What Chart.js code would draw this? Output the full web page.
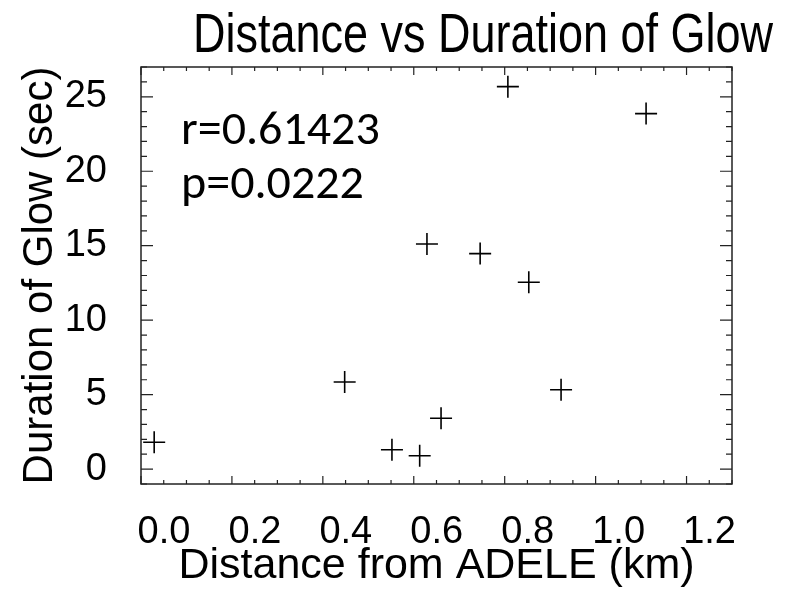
<!DOCTYPE html>
<html>
<head>
<meta charset="utf-8">
<script src="https://cdn.jsdelivr.net/npm/chart.js@4.4.1/dist/chart.umd.min.js"></script>
<style>
  html, body { margin: 0; padding: 0; background: #fff; }
  #wrap { width: 788px; height: 592px; }
</style>
</head>
<body>
<div id="wrap"><canvas id="glowChart" width="788" height="592"></canvas></div>
<script>
// distance from ADELE (km) and glow duration (sec)
const distanceKm = [0.029, 0.448, 0.552, 0.613, 0.629, 0.660, 0.746, 0.807, 0.853, 0.924, 1.111];
const glowSec    = [1.80, 5.85, 1.30, 0.90, 15.12, 3.41, 14.47, 25.68, 12.55, 5.33, 23.87];

// axis ranges and tick spacing
const xRange = [0, 1.3];
const yRange = [-1, 27];
const xMajor = 0.2, xMinor = 0.05;
const yMajor = 5, yMinor = 1;

const titleText = 'Distance vs Duration of Glow';

// stats text in the upper left
const statLines = ['r=0.61423', 'p=0.0222'];
const statPos = { x: 0.088, y: [21.8, 18.2] };

const statFont = '48px Carlito, Lato, "Open Sans", sans-serif';
const titleFont = '55px "Liberation Sans", Arial, sans-serif';

const points = distanceKm.map((d, i) => ({ x: d, y: glowSec[i] }));

// title in a squeezed Arial, like the original
const squeezedTitle = {
    id: 'squeezedTitle',
    afterDraw(chart) {
        const ctx = chart.ctx;
        ctx.save();
        ctx.fillStyle = '#000';
        ctx.font = titleFont;
        ctx.textAlign = 'center';
        ctx.textBaseline = 'alphabetic';
        ctx.translate(483, 52);
        ctx.scale(0.818, 1);
        ctx.fillText(titleText, 0, 0);
        ctx.restore();
    }
};

// draws the box round the plot and the inward tick marks on all four sides
const boxTicks = {
    id: 'boxTicks',
    afterDraw(chart) {
        const ctx = chart.ctx;
        const a = chart.chartArea;
        const xs = chart.scales.x, ys = chart.scales.y;
        ctx.save();
        ctx.strokeStyle = '#222';
        ctx.lineWidth = 1.5;
        ctx.strokeRect(a.left, a.top, a.right - a.left, a.bottom - a.top);

        ctx.beginPath();
        // x ticks, bottom and top
        for (let v = xRange[0]; v <= xRange[1] + 1e-9; v += xMinor) {
            const isMajor = Math.abs(v / xMajor - Math.round(v / xMajor)) < 1e-6;
            const len = isMajor ? 8 : 4;
            const px = xs.getPixelForValue(v);
            ctx.moveTo(px, a.bottom); ctx.lineTo(px, a.bottom - len);
            ctx.moveTo(px, a.top); ctx.lineTo(px, a.top + len);
        }
        // y ticks, left and right
        for (let v = yRange[0]; v <= yRange[1] + 1e-9; v += yMinor) {
            const isMajor = Math.abs(v / yMajor - Math.round(v / yMajor)) < 1e-6;
            const len = isMajor ? 12 : 6;
            const py = ys.getPixelForValue(v);
            ctx.moveTo(a.left, py); ctx.lineTo(a.left + len, py);
            ctx.moveTo(a.right, py); ctx.lineTo(a.right - len, py);
        }
        ctx.lineWidth = 1.2;
        ctx.stroke();

        // r and p values
        ctx.fillStyle = '#000';
        ctx.font = statFont;
        ctx.textAlign = 'left';
        ctx.textBaseline = 'alphabetic';
        statLines.forEach((t, i) => {
            ctx.fillText(t, xs.getPixelForValue(statPos.x), ys.getPixelForValue(statPos.y[i]));
        });
        ctx.restore();
    }
};

function drawChart() {
    const ctx = document.getElementById('glowChart').getContext('2d');
    new Chart(ctx, {
        type: 'scatter',
        data: {
            datasets: [{
                label: 'Glow',
                data: points,
                pointStyle: 'cross',
                pointRadius: 11,
                pointHoverRadius: 11,
                borderColor: '#000',
                backgroundColor: '#000',
                borderWidth: 1.6
            }]
        },
        options: {
            responsive: false,
            animation: false,
            layout: { padding: { left: 0, right: 56, top: 67, bottom: 0 } },
            plugins: {
                legend: { display: false },
                tooltip: { enabled: false },
                title: { display: false }
            },
            scales: {
                x: {
                    type: 'linear',
                    min: xRange[0],
                    max: xRange[1],
                    grid: { display: false, drawTicks: false },
                    border: { display: false },
                    ticks: {
                        stepSize: xMajor,
                        includeBounds: false,
                        color: '#000',
                        padding: 26,
                        labelOffset: 23,
                        maxRotation: 0,
                        font: { family: 'Liberation Sans', size: 38, lineHeight: 1.2 },
                        callback: v => Number(v).toFixed(1)
                    },
                    title: {
                        display: true,
                        text: 'Distance from ADELE (km)',
                        color: '#000',
                        font: { family: 'Liberation Sans', size: 43, lineHeight: 1.2 },
                        padding: { top: 0, bottom: 0 }
                    },
                    afterFit: s => { s.height = 108; }
                },
                y: {
                    type: 'linear',
                    min: yRange[0],
                    max: yRange[1],
                    grid: { display: false, drawTicks: false },
                    border: { display: false },
                    ticks: {
                        stepSize: yMajor,
                        includeBounds: false,
                        color: '#000',
                        padding: 34,
                        font: { family: 'Liberation Sans', size: 38, lineHeight: 1.2 },
                        callback: v => String(v)
                    },
                    title: {
                        display: true,
                        text: 'Duration of Glow (sec)',
                        color: '#000',
                        font: { family: 'Liberation Sans', size: 42, lineHeight: 1.2 },
                        padding: { top: 15, bottom: 0 }
                    },
                    afterFit: s => { s.width = 141; }
                }
            }
        },
        plugins: [boxTicks, squeezedTitle]
    });
}

Promise.all([
    document.fonts.load(statFont, 'r=0.61423'),
    document.fonts.load(titleFont, 'Glow'),
    document.fonts.load('38px "Liberation Sans"', '0.2')
]).then(drawChart, drawChart);
</script>
</body>
</html>
